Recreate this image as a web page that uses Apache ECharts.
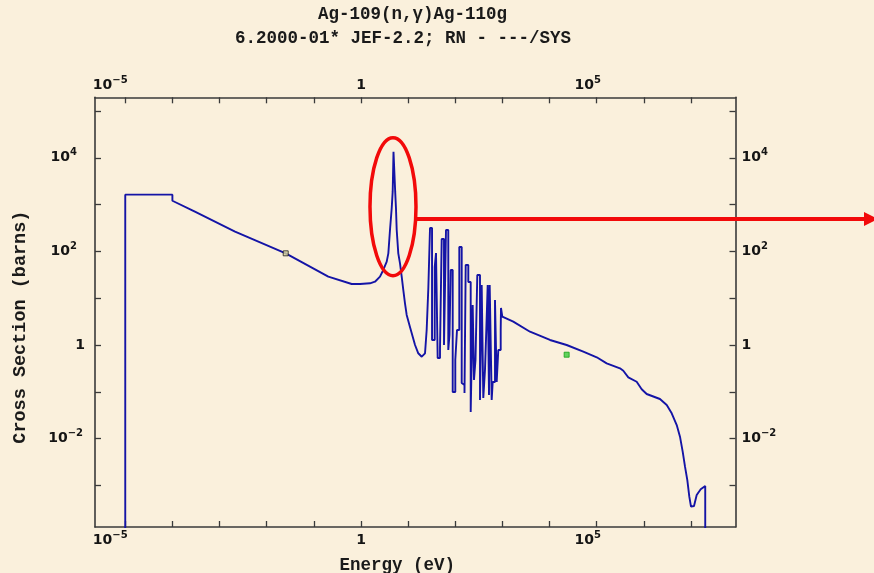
<!DOCTYPE html>
<html>
<head>
<meta charset="utf-8">
<script src="https://cdn.jsdelivr.net/npm/echarts@6/dist/echarts.min.js"></script>
<style>
html,body{margin:0;padding:0;background:#FAF0DC;}
#c{width:874px;height:573px;}
</style>
</head>
<body>
<div id="c"></div>
<script>
// ---- data ----
const titleLine1 = 'Ag-109(n,γ)Ag-110g';
const titleLine2 = '6.2000-01* JEF-2.2; RN - ---/SYS';
const xAxisTitle = 'Energy (eV)';
const yAxisTitle = 'Cross Section (barns)';

// Energy (eV)
const energyEV = [
  1e-5, 1e-5, 1e-4, 1e-4, 3.0e-4, 2.13e-3, 0.0253, 0.2025, 0.635, 0.953,
  1.55, 1.98, 2.53, 2.97, 3.51, 3.80, 4.12, 4.48, 4.70, 4.89,
  5.13, 5.31, 5.52, 5.72, 6.18, 6.72, 7.30, 7.89, 8.57, 9.31,
  10.9, 12.5, 14.0, 16.4, 19.4, 22.8,
  24.7, 24.7, 26.8, 26.8, 29.1, 29.1, 32.1, 32.1, 36.6, 36.6,
  39.0, 39.0, 42.3, 42.3, 47.4, 47.4, 51.5, 51.5, 57.6, 57.6,
  63.5, 63.5, 71.0, 71.0, 75.3, 75.3, 79.9, 79.9, 88.1, 88.1,
  100, 100, 108.7, 108.7, 121.6, 121.6, 136.7, 136.7, 145.7, 145.7,
  156.7, 156.7, 166.2, 166.2, 188.7, 188.7, 212.2, 212.2, 233.9, 233.9,
  249.2, 249.2, 268.2, 268.2, 292.9, 292.9, 334.1, 334.1, 363.0, 363.0,
  392.5, 392.5, 426.5, 426.5, 454.5, 454.5, 486.7, 486.7, 518.5, 518.5,
  536.6, 536.6, 591.6, 591.6, 621.3, 621.3, 695.0, 695.0, 755.1, 755.1,
  816.6, 816.6, 918.3, 918.3, 931.6, 931.6, 992.7, 992.7,
  1698, 3840, 10190, 23000, 51900, 1.0e5, 1.625e5, 3.11e5, 3.66e5,
  4.67e5, 7.03e5, 8.98e5, 1.146e6, 2.19e6, 3.05e6, 3.89e6, 4.97e6, 5.83e6, 6.65e6,
  7.45e6, 8.34e6, 9.19e6, 9.98e6, 1.156e7, 1.318e7, 1.603e7, 2.0e7, 2.0e7
];
// Cross section (barns)
const sigmaBarns = [
  1e-5, 1630, 1630, 1210, 705, 264, 91, 28.8, 20.1, 20.1,
  20.8, 22.5, 28.8, 40.1, 60.3, 91, 287, 834, 1890, 13500,
  13500, 1890, 834, 287, 91, 55.7, 28.8, 15.0, 7.78, 4.38,
  2.46, 1.50, 1.0, 0.665, 0.562, 0.665,
  0.665, 2.09, 2.09, 16.5, 16.5, 316, 316, 1.28, 1.28, 46.4,
  46.4, 92.4, 92.4, 0.528, 0.528, 0.863, 0.863, 184, 184, 1.0,
  1.0, 287, 287, 0.782, 0.782, 1.64, 1.64, 40.1, 40.1, 0.099,
  0.099, 0.478, 0.478, 2.09, 2.09, 124, 124, 0.154, 0.154, 0.14,
  0.14, 0.0942, 0.0942, 51.2, 51.2, 22.2, 22.2, 0.037, 0.037, 7.16,
  7.16, 0.179, 0.179, 0.478, 0.478, 31.3, 31.3, 0.0668, 0.0668, 19.1,
  19.1, 0.0737, 0.0737, 0.292, 0.292, 2.09, 2.09, 19.1, 19.1, 0.0854,
  0.0854, 19.1, 19.1, 0.0668, 0.0668, 0.162, 0.162, 9.15, 9.15, 0.162,
  0.162, 0.782, 0.782, 2.09, 2.09, 6.17, 6.17, 4.03,
  3.15, 1.92, 1.28, 1.0, 0.719, 0.546, 0.406, 0.318, 0.282,
  0.204, 0.164, 0.113, 0.0897, 0.0702, 0.0522, 0.0347, 0.0195, 0.011, 0.00525,
  0.00251, 0.0013, 5.74e-4, 3.51e-4, 3.63e-4, 6.24e-4, 8.26e-4, 9.7e-4, 1e-5
];

// reference points shown as small squares
const thermalPoint = [0.0253, 91];
const averagePoint = [2.3e4, 0.62];

// annotation anchor (resonance at ~5 eV)
const highlightCenter = [4.77, 902];
const arrowLevel = 492;

// axis ranges and ticks
const xRange = [2.282e-6, 8.77e7];
const yRange = [1.291e-4, 1.963e5];
const xTickValues = [1e-5,1e-4,1e-3,1e-2,1e-1,1,1e1,1e2,1e3,1e4,1e5,1e6,1e7];
const xLabelValues = [1e-5, 1, 1e5];
const xLabelBase = ['10', '1', '10'];
const xLabelExp = ['−5', '', '5'];
const yTickValues = [1e-3,1e-2,1e-1,1,1e1,1e2,1e3,1e4,1e5];
const yLabelValues = [1e-2, 1, 1e2, 1e4];
const yLabelBase = ['10', '1', '10', '10'];
const yLabelExp = ['−2', '', '2', '4'];

// ---- chart ----
const chart = echarts.init(document.getElementById('c'), null, {renderer: 'canvas'});

const FRAME = '#3a3a3a';
const INK = '#141414';
const BASE = {fontFamily: 'DejaVu Sans', fontWeight: 'bold', fontSize: 14, color: INK, lineHeight: 20, verticalAlign: 'middle'};
const SUP = {fontFamily: 'DejaVu Sans', fontWeight: 'bold', fontSize: 10, color: INK, lineHeight: 10, verticalAlign: 'top'};
const NAME_FONT = {fontFamily: 'Liberation Mono', fontWeight: 'bold', fontSize: 17.5, color: '#1a1a1a'};

function sup(pad) { return Object.assign({padding: [0, pad, 0, 0]}, SUP); }

function findIdx(vals, v) {
  let best = 0, bd = Infinity;
  vals.forEach((t, i) => { const d = Math.abs(Math.log10(t) - Math.log10(v)); if (d < bd) { bd = d; best = i; } });
  return best;
}
function makeFmt(vals, bases, exps, prefix) {
  return function (v) {
    const i = findIdx(vals, v);
    return '{b|' + bases[i] + '}' + (exps[i] ? '{' + prefix + i + '|' + exps[i] + '}' : '');
  };
}
const xRich = {b: BASE, x0: sup(30), x1: sup(0), x2: sup(18)};
const yRichL = {b: BASE, l0: sup(2), l1: sup(0), l2: sup(8), l3: sup(8)};
const yRichR = {b: BASE, r0: sup(0), r1: sup(0), r2: sup(0), r3: sup(0)};

function xAxisDef(pos, withName) {
  return {
    type: 'log', logBase: 10, position: pos, gridIndex: 0,
    min: xRange[0], max: xRange[1],
    axisLine: {show: true, onZero: false, lineStyle: {color: FRAME, width: 1.6}},
    axisTick: {show: true, inside: true, length: 6, customValues: xTickValues, lineStyle: {color: FRAME, width: 1.3}},
    axisLabel: {show: true, margin: pos === 'bottom' ? 3 : 2, customValues: xLabelValues,
      formatter: makeFmt(xLabelValues, xLabelBase, xLabelExp, 'x'), rich: xRich,
      fontFamily: 'DejaVu Sans', fontWeight: 'bold', fontSize: 14, color: INK},
    splitLine: {show: false}, minorTick: {show: false}, minorSplitLine: {show: false},
    name: withName ? xAxisTitle : '',
    nameLocation: 'middle', nameGap: 30,
    nameTextStyle: Object.assign({padding: [0, 36, 0, 0]}, NAME_FONT)
  };
}
function yAxisDef(pos, withName) {
  const left = pos === 'left';
  return {
    type: 'log', logBase: 10, position: pos, gridIndex: 0,
    min: yRange[0], max: yRange[1],
    axisLine: {show: true, onZero: false, lineStyle: {color: FRAME, width: 1.6}},
    axisTick: {show: true, inside: true, length: 6, customValues: yTickValues, lineStyle: {color: FRAME, width: 1.3}},
    axisLabel: {show: true, margin: left ? 10 : 6, customValues: yLabelValues,
      formatter: makeFmt(yLabelValues, yLabelBase, yLabelExp, left ? 'l' : 'r'), rich: left ? yRichL : yRichR,
      fontFamily: 'DejaVu Sans', fontWeight: 'bold', fontSize: 14, color: INK},
    splitLine: {show: false}, minorTick: {show: false}, minorSplitLine: {show: false},
    name: withName ? yAxisTitle : '',
    nameLocation: 'middle', nameGap: 65,
    nameTextStyle: Object.assign({padding: [0, 30, 0, 0]}, NAME_FONT, {fontSize: 18.5})
  };
}

const option = {
  backgroundColor: '#FAF0DC',
  animation: false,
  title: [
    {text: titleLine1, left: 318, top: 6, padding: 0,
     textStyle: {fontFamily: 'Liberation Mono', fontWeight: 'bold', fontSize: 17.5, color: '#1a1a1a'}},
    {text: titleLine2, left: 235, top: 30, padding: 0,
     textStyle: {fontFamily: 'Liberation Mono', fontWeight: 'bold', fontSize: 17.5, color: '#1a1a1a'}}
  ],
  grid: {left: 95, right: 138.5, top: 97.3, bottom: 46, containLabel: false, outerBoundsMode: 'none'},
  xAxis: [xAxisDef('bottom', true), xAxisDef('top', false)],
  yAxis: [yAxisDef('left', true), yAxisDef('right', false)],
  series: [
    {
      type: 'line', xAxisIndex: 0, yAxisIndex: 0,
      data: energyEV.map((e, i) => [e, sigmaBarns[i]]),
      showSymbol: false, symbol: 'none', clip: true,
      lineStyle: {color: '#1414A6', width: 1.9},
      z: 3
    },
    {
      type: 'scatter', xAxisIndex: 0, yAxisIndex: 0,
      data: [thermalPoint], symbol: 'rect', symbolSize: 5,
      itemStyle: {color: '#D8D49A', borderColor: '#1a1a1a', borderWidth: 1}, z: 4
    },
    {
      type: 'scatter', xAxisIndex: 0, yAxisIndex: 0,
      data: [averagePoint], symbol: 'rect', symbolSize: 5,
      itemStyle: {color: '#3CCB3C', borderColor: '#14A014', borderWidth: 1}, z: 4
    }
  ]
};
chart.setOption(option);

// annotation: red ellipse around the big resonance and an arrow to the right edge
const c = chart.convertToPixel({xAxisIndex: 0, yAxisIndex: 0}, highlightCenter);
const a = chart.convertToPixel({xAxisIndex: 0, yAxisIndex: 0}, [highlightCenter[0], arrowLevel]);
const rx = 23, ry = 69;
const dy = (a[1] - c[1]) / ry;
const arrowStartX = c[0] + rx * Math.sqrt(Math.max(0, 1 - dy * dy));
const arrowY = a[1];
chart.setOption({
  graphic: [
    {type: 'ellipse', z: 100, silent: true,
     shape: {cx: c[0], cy: c[1], rx: rx, ry: ry},
     style: {fill: 'none', stroke: '#F20A0A', lineWidth: 3.5}},
    {type: 'line', z: 100, silent: true,
     shape: {x1: arrowStartX, y1: arrowY, x2: 864, y2: arrowY},
     style: {stroke: '#F20A0A', lineWidth: 4}},
    {type: 'polygon', z: 100, silent: true,
     shape: {points: [[864, arrowY - 7], [878, arrowY], [864, arrowY + 7]]},
     style: {fill: '#F20A0A'}}
  ]
});
</script>
</body>
</html>
